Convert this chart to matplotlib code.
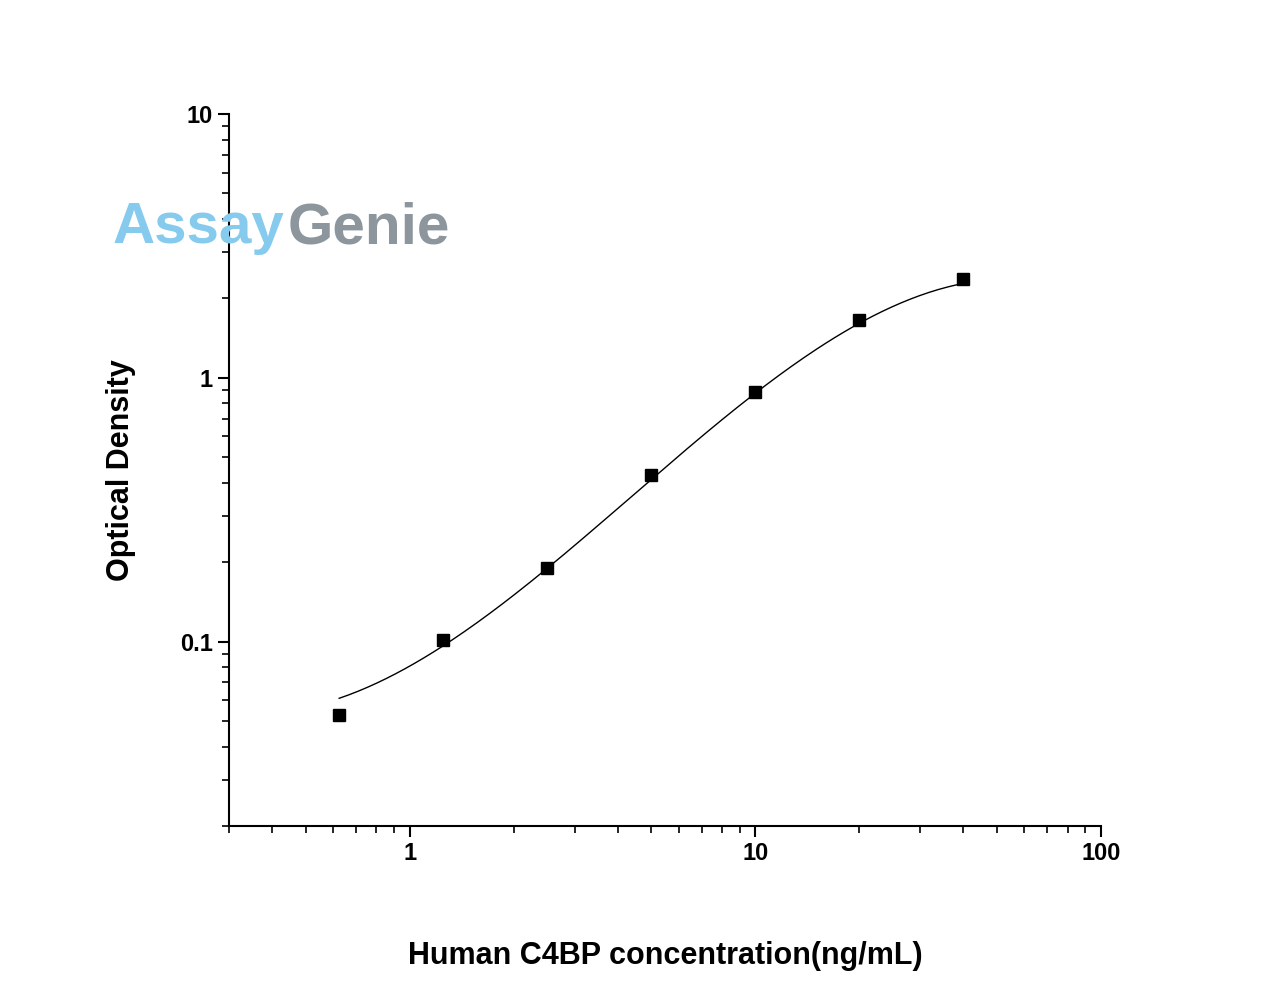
import numpy as np
import matplotlib
matplotlib.use("Agg")
import matplotlib.pyplot as plt
from matplotlib.ticker import LogLocator, NullFormatter, FixedLocator, FixedFormatter

plt.rcParams['font.family'] = ['Liberation Sans', 'DejaVu Sans']

conc = [0.625, 1.25, 2.5, 5, 10, 20, 40]
od = [0.0528, 0.1017, 0.19, 0.428, 0.885, 1.65, 2.36]
curve_x = [0.625, 1, 1.25, 2.5, 5, 10, 20, 30, 40]
curve_y = [0.0607, 0.0818, 0.0957, 0.19, 0.41, 0.87, 1.65, 2.0, 2.3]

fig = plt.figure(figsize=(12.8, 9.89), dpi=100)
ax = fig.add_axes([229/1280, 163/989, 872/1280, 712/989])

p = np.polyfit(np.log10(curve_x), np.log10(curve_y), 3)
xs = np.logspace(np.log10(curve_x[0]), np.log10(curve_x[-1]), 200)
ax.plot(xs, 10**np.polyval(p, np.log10(xs)), color='black', lw=1)
ax.plot(conc, od, 's', color='black', ms=8)

ax.set_xscale('log'); ax.set_yscale('log')
ax.set_xlim(0.3, 100); ax.set_ylim(0.02, 10)
for s in ['top', 'right']:
    ax.spines[s].set_visible(False)
for s in ['left', 'bottom']:
    ax.spines[s].set_linewidth(1.5)
ax.xaxis.set_major_locator(FixedLocator([1, 10, 100]))
ax.xaxis.set_major_formatter(FixedFormatter(['1', '10', '100']))
ax.yaxis.set_major_locator(FixedLocator([0.1, 1, 10]))
ax.yaxis.set_major_formatter(FixedFormatter(['0.1', '1', '10']))
ax.xaxis.set_minor_locator(LogLocator(base=10, subs=np.arange(2, 10)))
ax.yaxis.set_minor_locator(LogLocator(base=10, subs=np.arange(2, 10)))
ax.xaxis.set_minor_formatter(NullFormatter()); ax.yaxis.set_minor_formatter(NullFormatter())
ax.tick_params(which='major', direction='out', length=8, width=1.5, labelsize=17)
ax.tick_params(which='minor', direction='out', length=5, width=1.2)
for l in ax.get_xticklabels() + ax.get_yticklabels():
    l.set_fontweight('bold')

ax.set_xlabel('Human C4BP concentration(ng/mL)', fontsize=22, fontweight='bold', labelpad=55)
ax.set_ylabel('Optical Density', fontsize=22, fontweight='bold', labelpad=32)

fig.text(113/1280, 1-228/989, 'Assay', fontsize=42, fontweight='bold', color='#86cbee', va='center')
fig.text(288/1280, 1-228/989, 'Genie', fontsize=42, fontweight='bold', color='#8c969c', va='center')

fig.savefig('out.png', dpi=100)
